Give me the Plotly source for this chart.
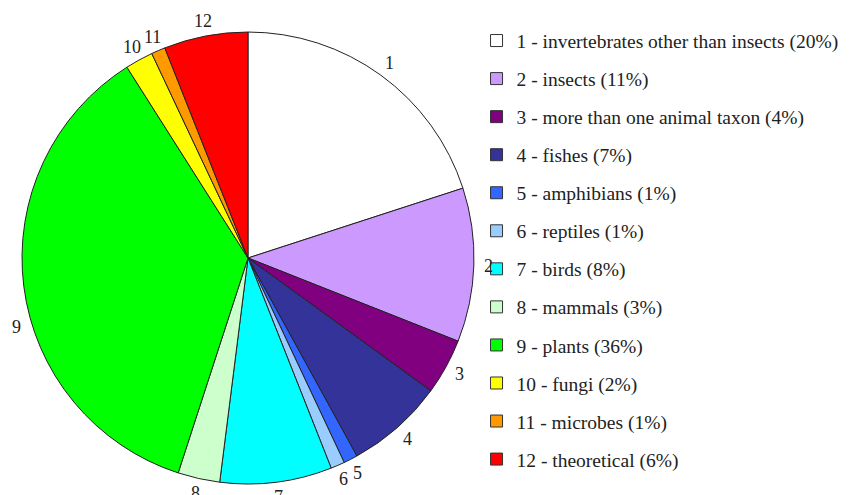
import math
import plotly.graph_objects as go

numbers = ["1", "2", "3", "4", "5", "6", "7", "8", "9", "10", "11", "12"]
names = ["invertebrates other than insects", "insects", "more than one animal taxon",
         "fishes", "amphibians", "reptiles", "birds", "mammals", "plants",
         "fungi", "microbes", "theoretical"]
percents = [20, 11, 4, 7, 1, 1, 8, 3, 36, 2, 1, 6]
colors = ["#FFFFFF", "#CC99FF", "#800080", "#333399", "#3366FF", "#99CCFF",
          "#00FFFF", "#CCFFCC", "#00FF00", "#FFFF00", "#FF9900", "#FF0000"]

FONT = "Liberation Serif, Times New Roman, DejaVu Serif, serif"
W, H = 855, 495
legend_labels = [f"{n} - {nm} ({p}%)" for n, nm, p in zip(numbers, names, percents)]

dom_x = [0.0164, 0.5450]
dom_y = [0.0384, 0.9515]

fig = go.Figure()
fig.add_trace(go.Pie(
    labels=legend_labels,
    values=percents,
    textinfo="none",
    marker=dict(colors=colors, line=dict(color="#222", width=1)),
    sort=False,
    direction="clockwise",
    rotation=0,
    showlegend=False,
    hoverinfo="label",
    domain=dict(x=dom_x, y=dom_y),
))

# slice number labels placed just outside the rim, at each slice's mid angle;
# a label that would leave the left edge slides along the label circle
cx = (dom_x[0] + dom_x[1]) / 2 * W
cy = (dom_y[0] + dom_y[1]) / 2 * H
r = min((dom_x[1] - dom_x[0]) * W, (dom_y[1] - dom_y[0]) * H) / 2
label_r = r + 15
x_min = 9
total = sum(percents)
cum = 0
for num, p in zip(numbers, percents):
    mid = (cum + p / 2) / total * 2 * math.pi
    cum += p
    px = cx + label_r * math.sin(mid)
    if px < x_min:
        s = (x_min - cx) / label_r
        a1 = math.pi - math.asin(s)        # lower-left solution
        a2 = 2 * math.pi + math.asin(s)    # upper-left solution
        mid = a1 if abs(mid - a1) < abs(mid - a2) else a2
        px = cx + label_r * math.sin(mid)
    py = cy + label_r * math.cos(mid)
    fig.add_annotation(x=px / W, y=py / H, xref="paper", yref="paper",
                       text=num, showarrow=False, xanchor="center", yanchor="middle",
                       font=dict(family=FONT, size=18, color="#222"))

for i, (lab, c) in enumerate(zip(legend_labels, colors)):
    fig.add_trace(go.Scatter(
        x=[None], y=[None], mode="markers", name=lab,
        marker=dict(symbol="square", size=12, color=c, line=dict(color="#333", width=1)),
        legendgroup=f"g{i}", showlegend=True, hoverinfo="skip",
    ))

fig.update_layout(
    width=W, height=H,
    margin=dict(l=0, r=0, t=0, b=0),
    paper_bgcolor="white", plot_bgcolor="white",
    xaxis=dict(visible=False), yaxis=dict(visible=False),
    legend=dict(
        x=0.548, y=0.973, xanchor="left", yanchor="top",
        font=dict(family=FONT, size=19.5, color="#222"),
        tracegroupgap=9.7, bgcolor="rgba(0,0,0,0)",
    ),
)

fig.write_html("out.html")
